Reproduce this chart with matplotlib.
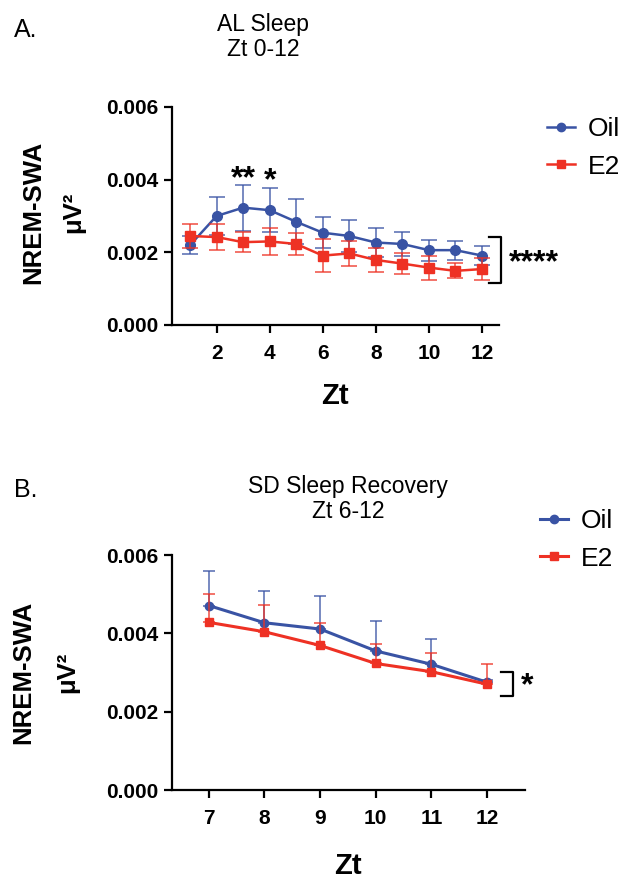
import matplotlib
matplotlib.use('Agg')
import matplotlib.pyplot as plt
from matplotlib.lines import Line2D
from matplotlib.colors import to_rgba
import numpy as np

plt.rcParams['font.family'] = ['Liberation Sans', 'DejaVu Sans']

# panel A: AL sleep, Zt 0-12
zt_a = [1, 2, 3, 4, 5, 6, 7, 8, 9, 10, 11, 12]
oil_a = [0.00220, 0.00300, 0.00323, 0.00316, 0.00284, 0.00254,
         0.00245, 0.00227, 0.00223, 0.00206, 0.00206, 0.00191]
oil_a_err = [0.00025, 0.00051, 0.00063, 0.00061, 0.00062, 0.00042,
             0.00045, 0.00041, 0.00034, 0.00029, 0.00026, 0.00027]
e2_a = [0.00245, 0.00242, 0.00228, 0.00230, 0.00223, 0.00191,
        0.00197, 0.00179, 0.00169, 0.00158, 0.00149, 0.00154]
e2_a_err = [0.00033, 0.00036, 0.00027, 0.00036, 0.00029, 0.00046,
            0.00035, 0.00033, 0.00029, 0.00033, 0.00021, 0.00030]

# panel B: SD sleep recovery, Zt 6-12 (upper error bars only)
zt_b = [7, 8, 9, 10, 11, 12]
oil_b = [0.00471, 0.00427, 0.00411, 0.00355, 0.00321, 0.00275]
oil_b_err = [0.00089, 0.00082, 0.00084, 0.00076, 0.00065, 0.00005]
e2_b = [0.00428, 0.00404, 0.00369, 0.00323, 0.00302, 0.00270]
e2_b_err = [0.00072, 0.00068, 0.00057, 0.00051, 0.00047, 0.00051]

yticks = [0.0, 0.002, 0.004, 0.006]
BLUE = '#3953A4'
RED = '#EE3124'

W, H = 632, 882
fig = plt.figure(figsize=(W / 100, H / 100), dpi=100)


def fx(px):
    return px / W


def fy(py):
    return 1 - py / H


def panel(rect, x, oil, oil_err, e2, e2_err, lw, ms, cap, upper_only, xticks, xlim):
    ax = fig.add_axes(rect)
    if upper_only:
        oerr = [np.zeros(len(oil_err)), oil_err]
        eerr = [np.zeros(len(e2_err)), e2_err]
    else:
        oerr, eerr = oil_err, e2_err
    ax.errorbar(x, oil, yerr=oerr, color=BLUE, ecolor=to_rgba(BLUE, 0.8),
                marker='o', ms=ms, lw=lw, elinewidth=1.2, capsize=cap,
                capthick=1.2, zorder=3)
    ax.errorbar(x, e2, yerr=eerr, color=RED, ecolor=to_rgba(RED, 0.8),
                marker='s', ms=ms, lw=lw, elinewidth=1.2, capsize=cap,
                capthick=1.2, zorder=4)
    ax.set_ylim(0, 0.006)
    ax.set_yticks(yticks)
    ax.set_yticklabels(['%.3f' % v for v in yticks])
    ax.set_xticks(xticks)
    ax.set_xlim(*xlim)
    for s in ['top', 'right']:
        ax.spines[s].set_visible(False)
    for s in ['left', 'bottom']:
        ax.spines[s].set_linewidth(1.6)
    ax.tick_params(width=1.6, length=6, labelsize=15)
    ax.tick_params(axis='x', pad=8)
    for lab in ax.get_xticklabels() + ax.get_yticklabels():
        lab.set_fontweight('bold')
    return ax


def legend(ax, x0, yc, lw, ms):
    handles = [Line2D([], [], color=BLUE, marker='o', lw=lw, ms=ms),
               Line2D([], [], color=RED, marker='s', lw=lw, ms=ms)]
    ax.legend(handles, ['Oil', 'E2'], loc='center left',
              bbox_to_anchor=(fx(x0), fy(yc)), bbox_transform=fig.transFigure,
              frameon=False, fontsize=19, handlelength=1.05, handletextpad=0.5,
              labelspacing=0.5, borderpad=0, borderaxespad=0)


# ---- panel A
axA = panel([fx(172), fy(325), fx(499) - fx(172), fy(107) - fy(325)],
            zt_a, oil_a, oil_a_err, e2_a, e2_a_err, 1.8, 7, 6, False,
            [2, 4, 6, 8, 10, 12], (0.32, 12.64))
axA.text(3, 0.00400, '**', ha='center', va='center', fontsize=23, fontweight='bold')
axA.text(4, 0.00395, '*', ha='center', va='center', fontsize=23, fontweight='bold')
axA.plot([12.25, 12.70, 12.70, 12.25], [0.00243, 0.00243, 0.001155, 0.001155],
         color='black', lw=1.6, clip_on=False)
axA.text(13.94, 0.00170, '****', ha='center', va='center', fontsize=23,
         fontweight='bold', clip_on=False)
legend(axA, 547, 148, 1.8, 6)

fig.text(fx(14), fy(30), 'A.', fontsize=18, ha='left', va='center')
fig.text(fx(263), fy(24), 'AL Sleep', fontsize=16.5, ha='center', va='center')
fig.text(fx(263), fy(49), 'Zt 0-12', fontsize=16.5, ha='center', va='center')
fig.text(fx(33), fy(212), 'NREM-SWA', rotation=90, fontsize=18.5, fontweight='bold',
         ha='center', va='center')
fig.text(fx(73), fy(212), 'μV²', rotation=90, fontsize=18.5, fontweight='bold',
         ha='center', va='center')
fig.text(fx(335), fy(396), 'Zt', fontsize=21, fontweight='bold', ha='center', va='center')

# ---- panel B
axB = panel([fx(172), fy(790), fx(525) - fx(172), fy(555) - fy(790)],
            zt_b, oil_b, oil_b_err, e2_b, e2_b_err, 2.2, 6, 4, True,
            [7, 8, 9, 10, 11, 12], (6.34, 12.68))
axB.plot([12.245, 12.46, 12.46, 12.245], [0.003006, 0.003006, 0.0024, 0.0024],
         color='black', lw=1.6, clip_on=False)
axB.text(12.71, 0.00265, '*', ha='center', va='center', fontsize=23,
         fontweight='bold', clip_on=False)
legend(axB, 540, 540, 2.2, 6)

fig.text(fx(14), fy(490), 'B.', fontsize=18, ha='left', va='center')
fig.text(fx(348), fy(487), 'SD Sleep Recovery', fontsize=16.5, ha='center', va='center')
fig.text(fx(348), fy(512), 'Zt 6-12', fontsize=16.5, ha='center', va='center')
fig.text(fx(23), fy(672), 'NREM-SWA', rotation=90, fontsize=18.5, fontweight='bold',
         ha='center', va='center')
fig.text(fx(67), fy(672), 'μV²', rotation=90, fontsize=18.5, fontweight='bold',
         ha='center', va='center')
fig.text(fx(348), fy(866), 'Zt', fontsize=21, fontweight='bold', ha='center', va='center')

fig.savefig('out.png', dpi=100)
